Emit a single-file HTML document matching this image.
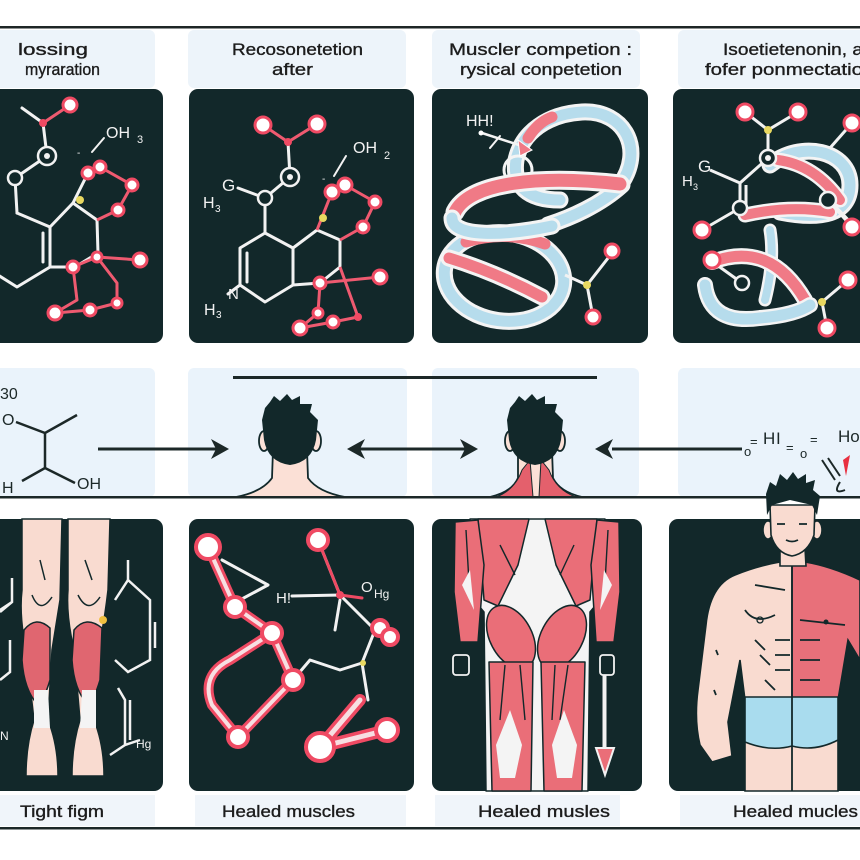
<!DOCTYPE html>
<html><head><meta charset="utf-8"><style>
html,body{margin:0;padding:0;background:#fff;}
svg{display:block;}
text{font-family:"Liberation Sans",sans-serif;}
</style></head><body>
<svg width="860" height="860" viewBox="0 0 860 860" xmlns="http://www.w3.org/2000/svg">
<rect width="860" height="860" fill="#fff"/>
<!-- top rule -->
<rect x="0" y="26" width="860" height="2.5" fill="#1e2626"/>

<!-- label boxes top -->
<g fill="#edf4fa">
<rect x="-8" y="30" width="163" height="58" rx="6"/>
<rect x="188" y="30" width="218" height="58" rx="6"/>
<rect x="432" y="30" width="208" height="58" rx="6"/>
<rect x="678" y="30" width="190" height="58" rx="6"/>
</g>
<g fill="#1c1c1c" font-size="16.5" stroke="#1c1c1c" stroke-width="0.35">
<text x="18" y="55" textLength="70" lengthAdjust="spacingAndGlyphs">lossing</text>
<text x="25" y="75" textLength="75" lengthAdjust="spacingAndGlyphs">myraration</text>
<text x="232" y="55" textLength="131" lengthAdjust="spacingAndGlyphs">Recosonetetion</text>
<text x="272" y="75" textLength="41" lengthAdjust="spacingAndGlyphs">after</text>
<text x="449" y="55" textLength="183" lengthAdjust="spacingAndGlyphs">Muscler competion :</text>
<text x="460" y="75" textLength="162" lengthAdjust="spacingAndGlyphs">rysical conpetetion</text>
<text x="723" y="55" textLength="140" lengthAdjust="spacingAndGlyphs">Isoetietenonin, a</text>
<text x="705" y="75" textLength="158" lengthAdjust="spacingAndGlyphs">fofer ponmectatio</text>
</g>

<!-- dark top panels -->
<g fill="#12282a">
<rect x="-10" y="89" width="173" height="254" rx="9"/>
<rect x="189" y="89" width="225" height="254" rx="9"/>
<rect x="432" y="89" width="216" height="254" rx="9"/>
<rect x="673" y="89" width="197" height="254" rx="9"/>
</g>

<!-- PANEL 1 TOP -->
<g stroke="#f2f2f2" stroke-width="3" fill="none" stroke-linecap="round" stroke-linejoin="round">
<path d="M22,108 L43,123 L47,156 L15,178 L17,213"/>
<path d="M17,213 L50,227 L50,267 L17,287 L-10,270"/>
<path d="M43,233 L43,262"/>
<path d="M50,227 L73,203 L97,220 L98,253 L75,267 L50,267"/>
<path d="M73,203 L88,173"/>
<path d="M92,152 L104,138" stroke-width="2"/>
</g>
<g stroke="#ef5a70" stroke-width="3" fill="none" stroke-linejoin="round">
<path d="M43,123 L70,105"/>
<path d="M88,173 L100,167 L132,185 L118,210 L97,220"/>
<path d="M73,267 L97,257 L140,260"/>
<path d="M97,257 L117,283 L117,303 L90,310 L55,313 L77,300 L73,267"/>
</g>
<g fill="#fff" stroke="#ef4a63" stroke-width="3">
<circle cx="70" cy="105" r="7"/><circle cx="88" cy="173" r="6"/><circle cx="100" cy="167" r="6"/>
<circle cx="132" cy="185" r="6"/><circle cx="118" cy="210" r="6"/><circle cx="73" cy="267" r="6"/>
<circle cx="140" cy="260" r="7"/><circle cx="117" cy="303" r="5"/><circle cx="90" cy="310" r="6"/>
<circle cx="55" cy="313" r="7"/><circle cx="97" cy="257" r="5"/>
</g>
<circle cx="43" cy="123" r="4" fill="#ef4a63"/>
<g fill="#12282a" stroke="#f2f2f2" stroke-width="2.5"><circle cx="47" cy="156" r="9"/><circle cx="15" cy="178" r="7"/></g>
<circle cx="47" cy="156" r="3" fill="#f2f2f2"/>
<circle cx="80" cy="200" r="4" fill="#e8d860"/>
<text x="106" y="138" fill="#f2f2f2" font-size="16">OH</text><text x="137" y="143" fill="#f2f2f2" font-size="11">3</text>
<text x="77" y="156" fill="#f2f2f2" font-size="10">-</text>

<!-- PANEL 2 TOP -->
<g stroke="#f2f2f2" stroke-width="3" fill="none" stroke-linecap="round" stroke-linejoin="round">
<path d="M288,142 L290,177 L265,198 L238,188"/>
<path d="M265,198 L265,233"/>
<path d="M265,233 L293,248 L293,285 L265,302 L240,285 L240,248 Z"/>
<path d="M247,253 L247,282"/>
<path d="M293,248 L317,230 L340,240 L340,267 L320,283 L293,285"/>
<path d="M334,176 L346,156" stroke-width="2"/>
<path d="M240,285 L228,294"/>
</g>
<g stroke="#ef5a70" stroke-width="3" fill="none" stroke-linejoin="round">
<path d="M263,125 L288,142 L317,124"/>
<path d="M317,230 L332,192 L345,185 L375,202 L363,227 L340,240"/>
<path d="M320,283 L380,277"/>
<path d="M320,283 L318,313 L300,328 L333,322 L358,317 L340,267"/>
</g>
<g fill="#fff" stroke="#ef4a63" stroke-width="3">
<circle cx="263" cy="125" r="8"/><circle cx="317" cy="124" r="8"/><circle cx="332" cy="192" r="7"/>
<circle cx="345" cy="185" r="7"/><circle cx="375" cy="202" r="6"/><circle cx="363" cy="227" r="6"/>
<circle cx="320" cy="283" r="6"/><circle cx="380" cy="277" r="7"/><circle cx="300" cy="328" r="7"/>
<circle cx="333" cy="322" r="6"/><circle cx="318" cy="313" r="5"/>
</g>
<circle cx="288" cy="142" r="4" fill="#ef4a63"/><circle cx="358" cy="317" r="4" fill="#ef4a63"/>
<g fill="#12282a" stroke="#f2f2f2" stroke-width="2.5"><circle cx="290" cy="177" r="9"/><circle cx="265" cy="198" r="7"/></g>
<circle cx="290" cy="177" r="3" fill="#f2f2f2"/>
<circle cx="323" cy="218" r="4" fill="#e8d860"/>
<g fill="#f2f2f2">
<text x="353" y="153" font-size="16">OH</text><text x="384" y="159" font-size="11">2</text>
<text x="222" y="191" font-size="17">G</text><text x="203" y="208" font-size="16">H</text><text x="215" y="212" font-size="10">3</text>
<text x="228" y="299" font-size="15">N</text><text x="204" y="315" font-size="16">H</text><text x="216" y="318" font-size="10">3</text>
<text x="322" y="182" font-size="10">-</text>
</g>

<!-- PANEL 3 TOP: ribbons -->
<g fill="none" stroke-linecap="round" stroke-linejoin="round">
<!-- lower loop -->
<ellipse cx="504" cy="277" rx="60" ry="44" transform="rotate(8 504 277)" stroke="#f4f4f4" stroke-width="17"/>
<ellipse cx="504" cy="277" rx="60" ry="44" transform="rotate(8 504 277)" stroke="#b6dcec" stroke-width="11"/>
<path d="M449,258 Q495,272 542,297" stroke="#f4f4f4" stroke-width="17"/>
<path d="M449,258 Q495,272 542,297" stroke="#f07a86" stroke-width="11"/>
<path d="M466,242 Q505,230 545,244" stroke="#f07a86" stroke-width="11"/>
<!-- upper loop -->
<path d="M620,185 C645,150 625,110 582,112 C548,114 522,132 516,160 C512,186 528,200 560,200" stroke="#f4f4f4" stroke-width="17"/>
<path d="M620,185 C645,150 625,110 582,112 C548,114 522,132 516,160 C512,186 528,200 560,200" stroke="#b6dcec" stroke-width="11"/>
<path d="M528,138 Q538,122 552,117" stroke="#f07a86" stroke-width="11"/>
<circle cx="518" cy="170" r="14" stroke="#f4f4f4" stroke-width="3"/>
<path d="M548,225 C570,218 600,205 622,185" stroke="#f4f4f4" stroke-width="17"/>
<path d="M548,225 C570,218 600,205 622,185" stroke="#b6dcec" stroke-width="11"/>
<!-- middle band -->
<path d="M455,212 C470,182 540,175 620,184" stroke="#f4f4f4" stroke-width="19"/>
<path d="M455,212 C470,182 540,175 620,184" stroke="#f07a86" stroke-width="13"/>
<path d="M452,218 C452,238 505,236 552,226" stroke="#f4f4f4" stroke-width="17"/>
<path d="M452,218 C452,238 505,236 552,226" stroke="#b6dcec" stroke-width="11"/>
<!-- arrow -->
<path d="M482,133 L528,148" stroke="#f4f4f4" stroke-width="2.5"/>
<path d="M490,148 L500,136" stroke="#f4f4f4" stroke-width="2"/>
</g>
<polygon points="532,150 518,140 520,156" fill="#f07a86" stroke="#fff" stroke-width="1"/>
<circle cx="481" cy="133" r="2.5" fill="#fff"/>
<text x="466" y="126" fill="#f2f2f2" font-size="16">HH!</text>
<g stroke="#f2f2f2" stroke-width="3" fill="none"><path d="M565,275 L587,285 L612,253"/><path d="M587,285 L593,317"/></g>
<g fill="#fff" stroke="#ef4a63" stroke-width="3"><circle cx="612" cy="251" r="7"/><circle cx="593" cy="317" r="7"/></g>
<circle cx="587" cy="285" r="4" fill="#e8d860"/>

<!-- PANEL 4 TOP -->
<g fill="none" stroke-linecap="round">
<path d="M770,165 C800,140 850,150 850,185 C850,215 820,220 780,212" stroke="#f4f4f4" stroke-width="17"/>
<path d="M770,165 C800,140 850,150 850,185 C850,215 820,220 780,212" stroke="#b6dcec" stroke-width="11"/>
<path d="M778,160 Q815,165 840,200" stroke="#f4f4f4" stroke-width="15"/>
<path d="M778,160 Q815,165 840,200" stroke="#f07a86" stroke-width="10"/>
<path d="M745,215 Q790,205 830,212" stroke="#f4f4f4" stroke-width="15"/>
<path d="M745,215 Q790,205 830,212" stroke="#f07a86" stroke-width="10"/>
<path d="M770,230 Q775,260 765,300" stroke="#f4f4f4" stroke-width="13"/>
<path d="M770,230 Q775,260 765,300" stroke="#b6dcec" stroke-width="8"/>
<path d="M712,262 Q770,240 805,300" stroke="#f4f4f4" stroke-width="16"/>
<path d="M712,262 Q770,240 805,300" stroke="#f07a86" stroke-width="11"/>
<path d="M705,285 Q710,325 760,318 Q795,315 810,305" stroke="#f4f4f4" stroke-width="16"/>
<path d="M705,285 Q710,325 760,318 Q795,315 810,305" stroke="#b6dcec" stroke-width="11"/>
</g>
<g stroke="#f2f2f2" stroke-width="3" fill="none" stroke-linejoin="round">
<path d="M745,112 L768,130 L798,112"/><path d="M768,130 L768,158"/>
<path d="M768,158 L740,183 L710,170"/><path d="M740,183 L740,208 L702,230"/>
<path d="M746,185 L746,205"/>
<path d="M852,123 L830,148"/><path d="M828,200 L852,227"/><path d="M834,205 L856,228"/>
<path d="M742,283 L710,260"/><path d="M822,302 L848,280"/><path d="M822,302 L827,328"/>
</g>
<g fill="#fff" stroke="#ef4a63" stroke-width="3">
<circle cx="745" cy="112" r="8"/><circle cx="798" cy="112" r="8"/><circle cx="852" cy="123" r="8"/>
<circle cx="702" cy="230" r="8"/><circle cx="712" cy="260" r="8"/><circle cx="852" cy="227" r="8"/>
<circle cx="848" cy="280" r="8"/><circle cx="827" cy="328" r="8"/>
</g>
<g fill="#12282a" stroke="#f2f2f2" stroke-width="2.5">
<circle cx="768" cy="158" r="8"/><circle cx="740" cy="208" r="7"/><circle cx="828" cy="200" r="8"/><circle cx="742" cy="283" r="7"/>
</g>
<circle cx="768" cy="158" r="3" fill="#f2f2f2"/>
<circle cx="768" cy="130" r="4" fill="#e8d860"/><circle cx="822" cy="302" r="4" fill="#e8d860"/>
<g fill="#f2f2f2"><text x="698" y="172" font-size="17">G</text><text x="682" y="186" font-size="15">H</text><text x="693" y="190" font-size="9">3</text></g>

<!-- MIDDLE ROW -->
<g fill="#eaf3fb">
<rect x="-8" y="368" width="163" height="129" rx="6"/>
<rect x="188" y="368" width="219" height="129" rx="6"/>
<rect x="432" y="368" width="207" height="129" rx="6"/>
<rect x="678" y="368" width="190" height="129" rx="6"/>
</g>
<rect x="233" y="376" width="364" height="3" fill="#1c2828"/>
<!-- left molecule -->
<g stroke="#1c2828" stroke-width="2.5" fill="none">
<path d="M16,422 L45,433 L77,415"/><path d="M45,433 L45,468 L22,481"/><path d="M45,468 L75,483"/>
</g>
<g fill="#1c2828" font-size="16"><text x="0" y="399">30</text><text x="2" y="425">O</text><text x="2" y="493">H</text><text x="77" y="489">OH</text></g>
<!-- arrows -->
<g stroke="#1c2828" stroke-width="3"><path d="M98,449 L216,449"/><path d="M356,449 L470,449"/><path d="M612,449 L742,449"/></g>
<g fill="#1c2828">
<polygon points="229,449 211,439 216,449 211,459"/>
<polygon points="347,449 365,439 360,449 365,459"/>
<polygon points="478,449 460,439 465,449 460,459"/>
<polygon points="595,449 613,439 608,449 613,459"/>
</g>
<!-- head 1 -->
<g stroke="#12282a" stroke-width="1.8">
<path d="M236,497 Q262,492 272,478 L273,450 L307,450 L308,478 Q318,492 345,497 Z" fill="#fbe0d6"/>
<ellipse cx="264" cy="441" rx="5" ry="10" fill="#fbe0d6"/>
<ellipse cx="316" cy="441" rx="5" ry="10" fill="#fbe0d6"/>
</g>
<path d="M265,408 L270,402 L274,396 L280,401 L287,394 L292,400 L300,396 L300,404 L312,404 L310,412 L318,420 L316,440 Q312,462 290,465 Q268,462 264,440 L262,420 Z" fill="#12282a"/>
<!-- head 2 -->
<g stroke="#12282a" stroke-width="1.8">
<path d="M490,497 Q512,492 518,478 L518,450 L552,450 L553,478 Q560,492 582,497 Z" fill="#fbe0d6"/>
<ellipse cx="510" cy="441" rx="5" ry="10" fill="#fbe0d6"/>
<ellipse cx="560" cy="441" rx="5" ry="10" fill="#fbe0d6"/>
</g>
<path d="M496,497 Q515,490 522,470 L530,460 L533,497 Z" fill="#e4606c" stroke="#12282a" stroke-width="1"/>
<path d="M576,497 Q556,490 549,470 L541,460 L539,497 Z" fill="#e4606c" stroke="#12282a" stroke-width="1"/>
<path d="M510,408 L515,402 L519,396 L525,401 L532,394 L537,400 L545,396 L545,404 L557,404 L555,412 L563,420 L561,440 Q557,462 535,465 Q513,462 509,440 L507,420 Z" fill="#12282a"/>
<!-- right molecule -->
<g fill="#1c2828"><text x="744" y="456" font-size="13">o</text><text x="750" y="446" font-size="13">=</text><text x="763" y="444" font-size="17">H</text><text x="776" y="444" font-size="17">I</text><text x="786" y="452" font-size="13">=</text><text x="800" y="458" font-size="13">o</text><text x="810" y="444" font-size="13">=</text><text x="838" y="442" font-size="17">Ho</text></g>
<path d="M822,460 L835,480 M828,458 L840,476 M840,482 Q832,495 845,490" stroke="#1c2828" stroke-width="2" fill="none"/>
<polygon points="843,460 850,455 846,476" fill="#e83040"/>

<!-- divider -->
<rect x="0" y="496" width="860" height="2.5" fill="#1c2828"/>

<!-- BOTTOM PANELS -->
<g fill="#12282a">
<rect x="-10" y="519" width="173" height="272" rx="9"/>
<rect x="189" y="519" width="225" height="272" rx="9"/>
<rect x="432" y="519" width="210" height="272" rx="9"/>
<rect x="669" y="519" width="200" height="272" rx="9"/>
</g>

<!-- panel 1 bottom: legs -->
<g stroke="#f2f2f2" stroke-width="2.5" fill="none">
<path d="M0,610 L12,602 M12,578 L12,602 L0,612"/><path d="M0,680 L10,672 L10,640"/>
<path d="M115,600 L128,580 L150,600 L150,660 L128,672 L115,660"/><path d="M128,560 L128,580"/>
<path d="M155,622 L155,648"/><path d="M118,688 L125,700 L125,745 L110,755"/><path d="M130,700 L130,740"/><path d="M125,745 L140,740"/>
</g>
<text x="136" y="748" fill="#f2f2f2" font-size="12">Hg</text>
<text x="0" y="740" fill="#f2f2f2" font-size="12">N</text>
<g stroke="#12282a" stroke-width="1.5">
<path d="M22,519 L62,519 L60,600 Q56,625 52,650 L48,720 Q58,745 58,776 L26,776 Q26,745 34,720 L26,650 Q19,615 22,590 Z" fill="#f9dbd0"/>
<path d="M68,519 L110,519 L108,590 Q104,625 98,650 L94,720 Q104,745 104,776 L72,776 Q72,745 80,720 L74,650 Q66,615 68,590 Z" fill="#f9dbd0"/>
<path d="M24,630 Q36,615 50,628 L50,680 Q44,700 38,705 Q24,690 22,660 Z" fill="#e06670"/>
<path d="M74,630 Q86,615 102,628 L100,680 Q94,700 88,705 Q74,690 72,660 Z" fill="#e06670"/>
</g>
<g fill="#f4f4f4"><path d="M34,690 L48,690 L50,728 L34,728 Z"/><path d="M82,690 L96,690 L96,728 L80,728 Z"/></g>
<g stroke="#12282a" stroke-width="1.5" fill="none"><path d="M32,595 Q40,615 52,597"/><path d="M78,595 Q88,615 100,597"/><path d="M40,560 L45,580"/><path d="M85,560 L92,580"/></g>
<circle cx="103" cy="620" r="4" fill="#f0c040"/>

<!-- panel 2 bottom -->
<g fill="none" stroke-linecap="round" stroke-linejoin="round">
<path d="M208,547 L235,607 L272,633 L293,680 L238,737 L212,705 Q200,675 230,660 L272,633" stroke="#ef4a63" stroke-width="10"/>
<path d="M208,547 L235,607 L272,633 L293,680 L238,737 L212,705 Q200,675 230,660 L272,633" stroke="#f7dfe2" stroke-width="4"/>
<path d="M320,747 L387,730 M320,747 L360,700" stroke="#ef4a63" stroke-width="12"/>
<path d="M320,747 L387,730 M320,747 L360,700" stroke="#f7dfe2" stroke-width="5"/>
<path d="M318,540 L340,595 L292,596 M340,595 L375,630 L362,663 L340,670 L310,660 L293,680 M362,663 L368,700 M340,600 L335,630" stroke="#f2f2f2" stroke-width="3"/>
<path d="M222,560 L268,585 L240,600" stroke="#f2f2f2" stroke-width="3"/>
<path d="M318,540 L340,595 L362,598" stroke="#ef4a63" stroke-width="3"/>
<path d="M375,630 L390,637 L380,628" stroke="#ef4a63" stroke-width="3"/>
</g>
<g fill="#fff" stroke="#ef4a63" stroke-width="4">
<circle cx="208" cy="547" r="12"/><circle cx="235" cy="607" r="10"/><circle cx="272" cy="633" r="10"/>
<circle cx="293" cy="680" r="10"/><circle cx="238" cy="737" r="10"/><circle cx="318" cy="540" r="10"/>
<circle cx="380" cy="628" r="8"/><circle cx="390" cy="637" r="8"/><circle cx="320" cy="747" r="14"/><circle cx="387" cy="730" r="11"/>
</g>
<circle cx="340" cy="595" r="4" fill="#ef4a63"/><circle cx="363" cy="663" r="3" fill="#e8d860"/>
<g fill="#f2f2f2"><text x="276" y="603" font-size="15">H!</text><text x="361" y="592" font-size="15">O</text><text x="374" y="598" font-size="12">Hg</text></g>

<!-- panel 3 bottom: back muscles -->
<g stroke="#12282a" stroke-width="1.5" stroke-linejoin="round">
<path d="M470,519 L605,519 L600,600 L590,612 L588,791 L486,791 L484,612 L474,600 Z" fill="#f4f4f4"/>
<path d="M478,519 L529,519 L518,565 L498,606 L484,600 Z" fill="#ea6e78"/>
<path d="M597,519 L545,519 L556,565 L576,606 L590,600 Z" fill="#ea6e78"/>
<path d="M455,522 L478,520 L484,565 L478,642 L460,642 L454,592 Z" fill="#ea6e78"/>
<path d="M619,522 L597,520 L591,565 L596,642 L614,642 L620,592 Z" fill="#ea6e78"/>
<ellipse cx="511" cy="637" rx="21" ry="34" transform="rotate(-28 511 637)" fill="#ea6e78"/>
<ellipse cx="562" cy="637" rx="21" ry="34" transform="rotate(28 562 637)" fill="#ea6e78"/>
<path d="M489,662 L533,662 L531,791 L492,791 Z" fill="#ea6e78"/>
<path d="M541,662 L585,662 L582,791 L544,791 Z" fill="#ea6e78"/>
</g>
<g stroke="#12282a" stroke-width="1.4" fill="none">
<path d="M500,545 L515,575 M574,545 L560,575 M466,530 L470,600 M608,530 L604,600"/>
<path d="M505,665 L500,720 M520,665 L525,720 M568,665 L560,720 M555,665 L552,720"/>
</g>
<g fill="#f4f4f4"><path d="M496,745 L510,710 L522,745 L515,778 L500,778 Z"/><path d="M552,745 L564,710 L577,745 L572,778 L557,778 Z"/><path d="M462,585 L470,570 L474,610 Z"/><path d="M612,585 L604,570 L600,610 Z"/></g>
<g fill="none" stroke="#f2f2f2" stroke-width="1.8"><rect x="453" y="655" width="16" height="20" rx="3"/><rect x="600" y="655" width="14" height="20" rx="3"/></g>
<path d="M604.5,675 L604.5,750" stroke="#f2f2f2" stroke-width="4"/>
<polygon points="596,748 614,748 605,775" fill="#ea6e78" stroke="#f2f2f2" stroke-width="2"/>

<!-- panel 4 bottom: man -->
<g stroke="#12282a" stroke-width="1.6">
<path d="M735,575 Q710,585 706,625 L698,690 Q694,720 700,745 L712,762 L732,756 L728,722 L740,660 L745,700 L745,791 L838,791 L838,700 L848,640 L860,650 L860,580 Q830,566 805,562 L780,562 Q757,566 735,575 Z" fill="#f9dbd0"/>
<path d="M792,565 L805,562 Q830,566 860,580 L860,660 L848,640 L838,700 L792,700 Z" fill="#e8707a"/>
<path d="M745,697 L838,697 L838,740 Q815,752 792,746 Q770,752 745,742 Z" fill="#a9dcee"/>
<path d="M780,548 L805,548 L806,566 L780,566 Z" fill="#f9dbd0"/>
<ellipse cx="768" cy="530" rx="5" ry="9" fill="#f9dbd0"/><ellipse cx="817" cy="530" rx="5" ry="9" fill="#f9dbd0"/>
<path d="M770,505 L815,505 L814,535 Q808,553 792,556 Q776,553 771,535 Z" fill="#f9dbd0"/>
</g>
<path d="M767,515 L766,494 L770,482 L776,486 L780,474 L787,480 L793,472 L798,479 L806,474 L806,483 L815,480 L813,490 L820,496 L817,515 L812,505 L790,500 L772,505 Z" fill="#12282a"/>
<g stroke="#12282a" stroke-width="1.8" fill="none">
<path d="M777,524 L785,524 M799,524 L807,524"/><path d="M786,540 Q792,543 798,540"/>
<path d="M792,566 L792,791"/>
<path d="M755,585 L785,590"/><path d="M745,610 Q755,625 775,615"/><path d="M755,640 L765,650 M760,655 L770,665 M775,640 L790,640 M775,655 L790,655 M775,670 L790,670 M765,680 L775,690"/>
<path d="M716,650 L718,655 M714,690 L716,695"/>
<path d="M800,620 L845,625 M800,640 L820,640 M800,660 L820,660 M800,680 L820,680"/>
</g>
<circle cx="760" cy="620" r="3" fill="none" stroke="#12282a" stroke-width="1.3"/>
<circle cx="826" cy="622" r="2.5" fill="#12282a"/>

<!-- bottom labels -->
<g fill="#f0f5fa">
<rect x="-8" y="795" width="163" height="31"/>
<rect x="195" y="795" width="211" height="31"/>
<rect x="435" y="795" width="185" height="31"/>
<rect x="680" y="795" width="190" height="31"/>
</g>
<g fill="#1c1c1c" font-size="16.5" stroke="#1c1c1c" stroke-width="0.35">
<text x="20" y="817" textLength="84" lengthAdjust="spacingAndGlyphs">Tight figm</text>
<text x="222" y="817" textLength="133" lengthAdjust="spacingAndGlyphs">Healed muscles</text>
<text x="478" y="817" textLength="132" lengthAdjust="spacingAndGlyphs">Healed musles</text>
<text x="733" y="817" textLength="125" lengthAdjust="spacingAndGlyphs">Healed mucles</text>
</g>
<rect x="0" y="827" width="860" height="2.5" fill="#1c2828"/>
</svg>
</body></html>
